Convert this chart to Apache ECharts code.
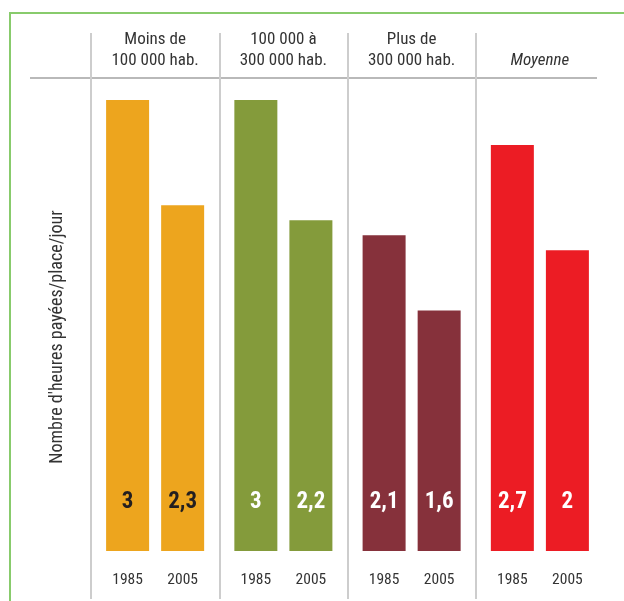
<!DOCTYPE html>
<html>
<head>
<meta charset="utf-8">
<script src="https://cdn.jsdelivr.net/npm/echarts@6/dist/echarts.min.js"></script>
<style>
  html, body { margin: 0; padding: 0; background: #fff; }
  #chart { width: 624px; height: 601px; }
</style>
</head>
<body>
<div id="chart"></div>
<script>
// data
const groups = ['Moins de\n100 000 hab.', '100 000 à\n300 000 hab.', 'Plus de\n300 000 hab.', 'Moyenne'];
const years = ['1985', '2005'];
const values1985 = [3, 3, 2.1, 2.7];
const values2005 = [2.3, 2.2, 1.6, 2];
const groupColors = ['#eda51e', '#849b3b', '#86313b', '#ec1c24'];
const valueLabelColors = ['#231f20', '#ffffff', '#ffffff', '#ffffff'];
const yTitle = "Nombre d'heures payées/place/jour";

// condensed face: the stretch keyword rides along in fontStyle
const FONT = 'Roboto, "DejaVu Sans Condensed", sans-serif';
const COND = 'condensed';

const fmt = (v) => String(v).replace('.', ',');

function makeSeries(values, year) {
  return {
    name: year,
    type: 'bar',
    barWidth: 43,
    barGap: '28%',
    data: values.map((v, i) => ({
      value: v,
      itemStyle: { color: groupColors[i] },
      label: {
        show: true,
        position: ['50%', '100%'],
        align: 'center',
        verticalAlign: 'middle',
        // value sits inside the bar foot, year just under the bar
        formatter: (p) => '{v|' + fmt(p.value) + '}\n{y|' + p.seriesName + '}',
        rich: {
          v: { fontFamily: FONT, fontStyle: COND, fontSize: 23, fontWeight: 'bold', color: valueLabelColors[i], lineHeight: 58 },
          y: { fontFamily: FONT, fontStyle: COND, fontSize: 15.5, color: '#333', lineHeight: 98 }
        }
      }
    }))
  };
}

const chart = echarts.init(document.getElementById('chart'));

chart.setOption({
  animation: false,
  backgroundColor: '#fff',
  grid: { left: 91, right: 20, top: 33, bottom: 2 },
  xAxis: {
    type: 'category',
    data: groups,
    position: 'top',
    axisLine: { show: false },
    axisTick: { show: false },
    axisLabel: {
      interval: 0,
      margin: -17.5,
      verticalAlign: 'middle',
      color: '#333',
      fontFamily: FONT,
      fontStyle: COND,
      fontSize: 17,
      lineHeight: 21,
      formatter: (val) => val === 'Moyenne' ? ' \n{i|Moyenne}' : val,
      rich: {
        i: { fontFamily: FONT, fontStyle: 'italic ' + COND, fontSize: 17, color: '#333', lineHeight: 21 }
      }
    },
    splitLine: {
      show: true,
      lineStyle: { color: ['#cdcdcd', '#cdcdcd', '#cdcdcd', '#cdcdcd', 'rgba(0,0,0,0)'], width: 2 }
    }
  },
  yAxis: {
    type: 'value',
    min: -0.319,
    max: 3.4457,
    show: false,
    splitLine: { show: false }
  },
  series: [makeSeries(values1985, years[0]), makeSeries(values2005, years[1])],
  graphic: [
    {
      type: 'rect',
      shape: { x: 10, y: 13, width: 700, height: 700 },
      style: { fill: 'none', stroke: '#88cb6c', lineWidth: 2 },
      silent: true
    },
    {
      type: 'line',
      shape: { x1: 30, y1: 78, x2: 597, y2: 78 },
      style: { stroke: '#b9b9b9', lineWidth: 2 },
      silent: true
    },
    {
      type: 'text',
      x: 57,
      y: 337,
      rotation: Math.PI / 2,
      style: {
        text: yTitle,
        font: COND + ' 18px ' + FONT,
        fill: '#333',
        align: 'center',
        verticalAlign: 'middle'
      },
      silent: true
    }
  ]
});
</script>
</body>
</html>
